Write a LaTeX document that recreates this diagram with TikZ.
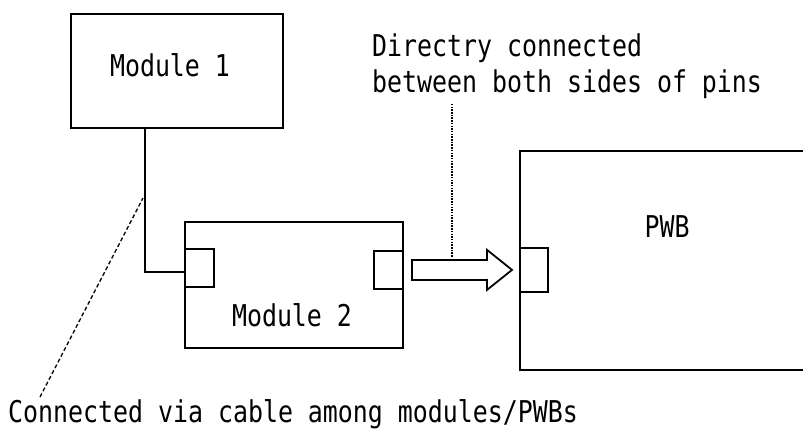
\documentclass[tikz,border=0pt]{standalone}
\usepackage{fontspec}
\setmonofont[FakeStretch=0.83]{DejaVu Sans Mono}
\usetikzlibrary{calc}
\begin{document}
\begin{tikzpicture}[x=1pt,y=-1pt,
  box/.style={draw=black, line width=2pt, rectangle, inner sep=0pt, anchor=north west},
  pinbox/.style={draw=black, line width=2pt, rectangle, inner sep=0pt, anchor=north west},
  lbl/.style={inner sep=0pt, font=\fontsize{30}{36}\selectfont\ttfamily},
  wire/.style={draw=black, line width=2pt},
  leader/.style={draw=black, line width=1.3pt, dash pattern=on 4pt off 2.5pt},
  dotline/.style={draw=black, line width=1.4pt, dash pattern=on 1.5pt off 1.2pt}]
\useasboundingbox (0,0) rectangle (803,430);
% boxes
\node[box, minimum width=212pt, minimum height=114pt] (m1) at (70,13) {};
\node[box, minimum width=218pt, minimum height=126pt] (m2) at (184,221) {};
\node[box, minimum width=295pt, minimum height=219pt, line width=1.8pt] (pwb) at (519,150) {};
% pins
\node[pinbox, minimum width=29pt, minimum height=38pt] (lp) at (184,248) {};
\node[pinbox, minimum width=29pt, minimum height=38pt] (rp) at (373,250) {};
\node[pinbox, minimum width=28pt, minimum height=44pt, line width=1.8pt] (pp) at (519,247) {};
% labels
\node[lbl] (t1) at (170,65) {Module 1};
\node[lbl] (t2) at (292,315) {Module 2};
\node[lbl] (t3) at (667,227) {PWB};
\node[lbl, anchor=base west, align=left] (td) at (372,93) {Directry connected\\[0pt]between both sides of pins};
\node[lbl, anchor=base west] (tc) at (8,422) {Connected via cable among modules/PWBs};
% cable
\draw[wire] ($(m1.south west)+(75,0)$) |- ($(lp.west)+(0,4)$);
% arrow
\coordinate (a0) at ($(rp.east)+(8,0)$);
\coordinate (atip) at ($(pp.west)+(-7,0)$);
\draw[line width=1.8pt, line join=miter, fill=white]
  ($(a0)+(0,-10)$) -- ($(atip)+(-25,-10)$) -- ($(atip)+(-25,-20)$) -- (atip)
  -- ($(atip)+(-25,20)$) -- ($(atip)+(-25,10)$) -- ($(a0)+(0,10)$) -- cycle;
\coordinate (ashaft) at (452,257);
\coordinate (dtop) at (452,104);
\draw[dotline] (dtop) -- (ashaft);
% leader to cable
\coordinate (ctop) at (143,198);
\coordinate (cbot) at (40,397);
\draw[leader] (cbot) -- (ctop);
\end{tikzpicture}
\end{document}
